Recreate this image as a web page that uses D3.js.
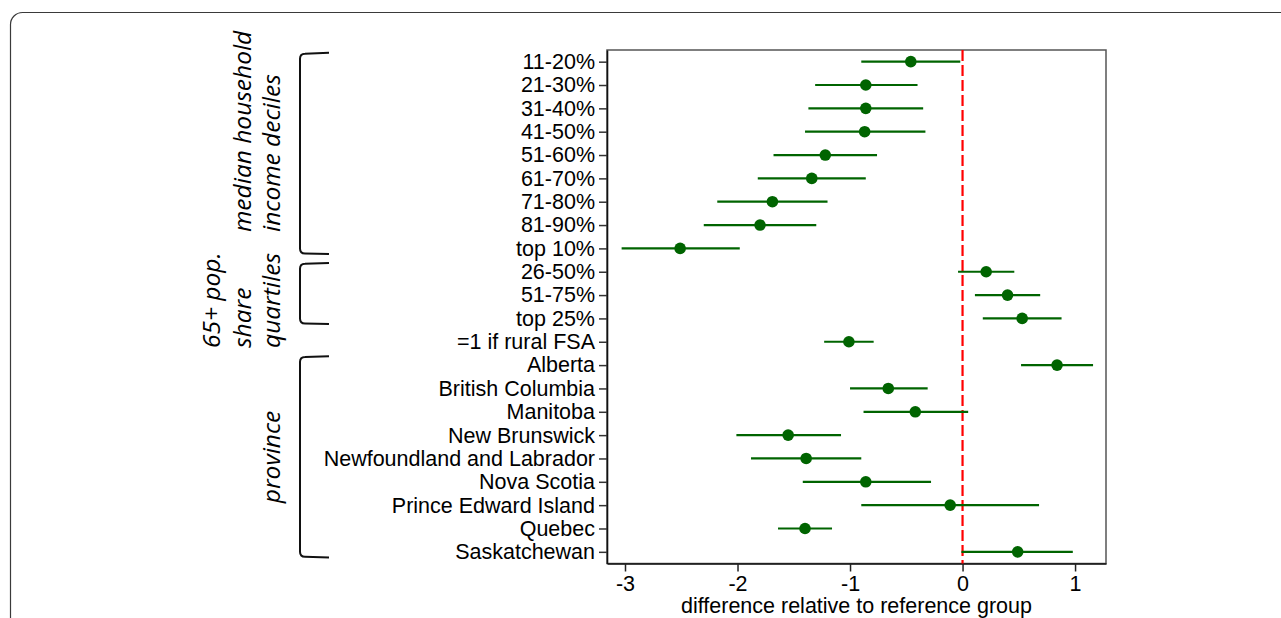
<!DOCTYPE html>
<html>
<head>
<meta charset="utf-8">
<script src="https://cdn.jsdelivr.net/npm/d3@7"></script>
<style>
  html, body { margin: 0; padding: 0; background: #fff; }
  svg { display: block; }
</style>
</head>
<body>
<svg id="chart" width="1281" height="618"></svg>
<script>
// Coefficient estimates with 95% confidence intervals
const labels = [
  "11-20%", "21-30%", "31-40%", "41-50%", "51-60%", "61-70%", "71-80%", "81-90%", "top 10%",
  "26-50%", "51-75%", "top 25%",
  "=1 if rural FSA",
  "Alberta", "British Columbia", "Manitoba", "New Brunswick", "Newfoundland and Labrador",
  "Nova Scotia", "Prince Edward Island", "Quebec", "Saskatchewan"
];
const estimates = [
  -0.46, -0.86, -0.86, -0.87, -1.22, -1.34, -1.69, -1.80, -2.51,
  0.21, 0.40, 0.53,
  -1.01,
  0.84, -0.66, -0.42, -1.55, -1.39, -0.86, -0.11, -1.40, 0.49
];
const lower = [
  -0.90, -1.31, -1.37, -1.40, -1.68, -1.82, -2.18, -2.30, -3.03,
  -0.04, 0.11, 0.18,
  -1.23,
  0.52, -1.00, -0.88, -2.01, -1.88, -1.42, -0.90, -1.64, -0.01
];
const upper = [
  -0.02, -0.40, -0.35, -0.33, -0.76, -0.86, -1.20, -1.30, -1.98,
  0.46, 0.69, 0.88,
  -0.79,
  1.16, -0.31, 0.05, -1.08, -0.90, -0.28, 0.68, -1.16, 0.98
];
const xTicks = [-3, -2, -1, 0, 1];
const xTickLabels = ["-3", "-2", "-1", "0", "1"];
const xTitle = "difference relative to reference group";

// Bracketed groups of rows with their (italic, rotated) captions
const groups = [
  { first: 0, last: 8, lines: ["median household", "income deciles"], anchor: "start" },
  { first: 9, last: 11, lines: ["65+ pop.", "share", "quartiles"], anchor: "start" },
  { first: 13, last: 21, lines: ["province"], anchor: "middle" }
];

const svg = d3.select("#chart");
const plot = { left: 607, right: 1106, top: 50, bottom: 563.5 };
const green = "#006400";
const sans = "'Liberation Sans', Arial, Helvetica, sans-serif";
const fontSize = 21.5;

// outer panel
svg.append("rect")
  .attr("x", 10.5).attr("y", 12.5)
  .attr("width", 1320).attr("height", 700)
  .attr("rx", 12)
  .attr("fill", "none").attr("stroke", "#3a3a3a").attr("stroke-width", 1.2);

const x = d3.scaleLinear().domain([-3.16, 1.275]).range([plot.left, plot.right]);
const y = d3.scalePoint().domain(labels).range([plot.top, plot.bottom]).padding(0.5);

// plot frame
svg.append("rect")
  .attr("x", plot.left).attr("y", plot.top)
  .attr("width", plot.right - plot.left).attr("height", plot.bottom - plot.top)
  .attr("fill", "none").attr("stroke", "#555").attr("stroke-width", 1.5);

// x axis
const gx = svg.append("g")
  .attr("transform", `translate(0,${plot.bottom})`)
  .call(d3.axisBottom(x).tickValues(xTicks).tickSize(8).tickSizeOuter(0).tickPadding(4)
    .tickFormat((d, i) => xTickLabels[i]));
gx.select(".domain").attr("stroke", "#111").attr("stroke-width", 1.6);
gx.selectAll(".tick line").attr("stroke", "#222").attr("stroke-width", 1.5);
gx.selectAll(".tick text").attr("font-family", sans).attr("font-size", fontSize).attr("fill", "#000");

// y axis
const gy = svg.append("g")
  .attr("transform", `translate(${plot.left},0)`)
  .call(d3.axisLeft(y).tickSize(8).tickSizeOuter(0).tickPadding(4));
gy.select(".domain").attr("stroke", "#111").attr("stroke-width", 1.6);
gy.selectAll(".tick line").attr("stroke", "#333").attr("stroke-width", 1.5);
gy.selectAll(".tick text").attr("font-family", sans).attr("font-size", fontSize).attr("fill", "#000");

// x axis title
svg.append("text")
  .attr("x", (plot.left + plot.right) / 2).attr("y", 612.5)
  .attr("text-anchor", "middle")
  .attr("font-family", sans).attr("font-size", fontSize).attr("fill", "#000")
  .text(xTitle);

// zero reference line
svg.append("line")
  .attr("x1", x(0)).attr("x2", x(0))
  .attr("y1", plot.top).attr("y2", plot.bottom)
  .attr("stroke", "#ff0000").attr("stroke-width", 2.2)
  .attr("stroke-dasharray", "11,4");

// confidence intervals and point estimates
const rows = labels.map((l, i) => ({ label: l, est: estimates[i], lo: lower[i], hi: upper[i] }));
svg.append("g").selectAll("line").data(rows).join("line")
  .attr("x1", d => x(d.lo)).attr("x2", d => x(d.hi))
  .attr("y1", d => y(d.label)).attr("y2", d => y(d.label))
  .attr("stroke", green).attr("stroke-width", 2.2);
svg.append("g").selectAll("circle").data(rows).join("circle")
  .attr("cx", d => x(d.est)).attr("cy", d => y(d.label))
  .attr("r", 5.8).attr("fill", green);

// group brackets and captions
const bx = 300, bEnd = 329, r = 5;
const colX = [211, 242, 271];
groups.forEach(g => {
  const top = y(labels[g.first]) - 8;
  const bot = y(labels[g.last]) + 5;
  svg.append("path")
    .attr("d", `M${bEnd},${top - 0.8} L${bx + r},${top} Q${bx},${top} ${bx},${top + r}` +
               ` L${bx},${bot - r} Q${bx},${bot} ${bx + r},${bot} L${bEnd},${bot + 0.6}`)
    .attr("fill", "none").attr("stroke", "#111").attr("stroke-width", 2);

  const n = g.lines.length;
  g.lines.forEach((line, k) => {
    const cx = colX[colX.length - n + k];
    const cy = g.anchor === "middle" ? (top + bot) / 2 : (g.first === 0 ? 232 : 348);
    svg.append("text")
      .attr("transform", `translate(${cx},${cy}) rotate(-90)`)
      .attr("text-anchor", g.anchor)
      .attr("dy", "0.35em")
      .attr("font-family", "'Open Sans', 'Noto Sans', sans-serif")
      .attr("font-style", "italic")
      .attr("font-size", 24.5)
      .attr("fill", "#000")
      .text(line);
  });
});
</script>
</body>
</html>
